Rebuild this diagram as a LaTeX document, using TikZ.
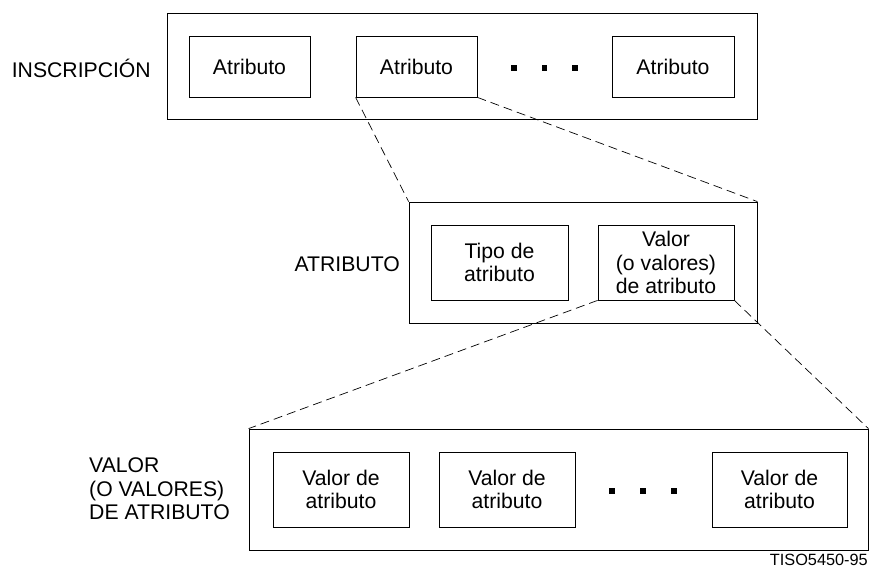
\documentclass[tikz,border=0pt]{standalone}
\usepackage{fontspec}
\setmainfont{Liberation Sans}
\begin{document}
\begin{tikzpicture}[x=1pt,y=-1pt,
    txt/.style={font=\fontsize{21.2}{23.5}\selectfont, inner sep=0pt, align=center},
    frame/.style={draw, line width=0.8pt, inner sep=0pt},
    cell/.style={frame, txt, minimum width=#1, minimum height=75},
    cell/.default=136,
    sq/.style={fill, inner sep=0pt, minimum size=5.5},
    zoomline/.style={line width=0.7pt, dash pattern=on 9pt off 5pt}]
    \useasboundingbox (0,0) rectangle (870,569);

    % Entry
    \node[frame, minimum width=590, minimum height=106] (entry) at (462,66) {};
    \node[txt, anchor=east] (entrylbl) at (151,68) {INSCRIPCI\'ON};
    \node[cell=121, minimum height=61] (attA) at (249.5,66.5) {Atributo};
    \node[cell=121, minimum height=61] (attB) at (416.5,66.5) {Atributo};
    \node[cell=122, minimum height=61] (attC) at (673,66.5) {Atributo};
    \foreach \x [count=\i] in {514,544.5,575}
      \node[sq] (dotA\i) at (\x,68) {};

    % Attribute
    \node[frame, minimum width=348, minimum height=121] (attr) at (583,262.5) {};
    \node[txt, anchor=east] (attrlbl) at (400,264) {ATRIBUTO};
    \node[cell=137] (type) at (499.5,262.5) {Tipo de\\atributo};
    \node[cell=136] (value) at (666,262.5) {Valor\\(o valores)\\de atributo};

    % Attribute values
    \node[frame, minimum width=619, minimum height=121] (vals) at (558.5,489.5) {};
    \node[txt, align=left, anchor=west] (valslbl) at (89,489) {VALOR\\(O VALORES)\\DE ATRIBUTO};
    \node[cell] (valA) at (341,489.5) {Valor de\\atributo};
    \node[cell] (valB) at (507,489.5) {Valor de\\atributo};
    \node[cell=135] (valC) at (779.5,489.5) {Valor de\\atributo};
    \foreach \x [count=\i] in {612,643,674}
      \node[sq] (dotB\i) at (\x,491) {};

    % Zoom lines
    \draw[zoomline] (attB.south west) -- (attr.north west);
    \draw[zoomline] (attB.south east) -- (attr.north east);
    \draw[zoomline] (value.south west) -- (vals.north west);
    \draw[zoomline] (value.south east) -- (vals.north east);

    % Figure number
    \node[inner sep=0pt, anchor=east, font=\fontsize{16.3}{18}\selectfont] (fignum) at (868,560) {TISO5450-95};
\end{tikzpicture}
\end{document}
